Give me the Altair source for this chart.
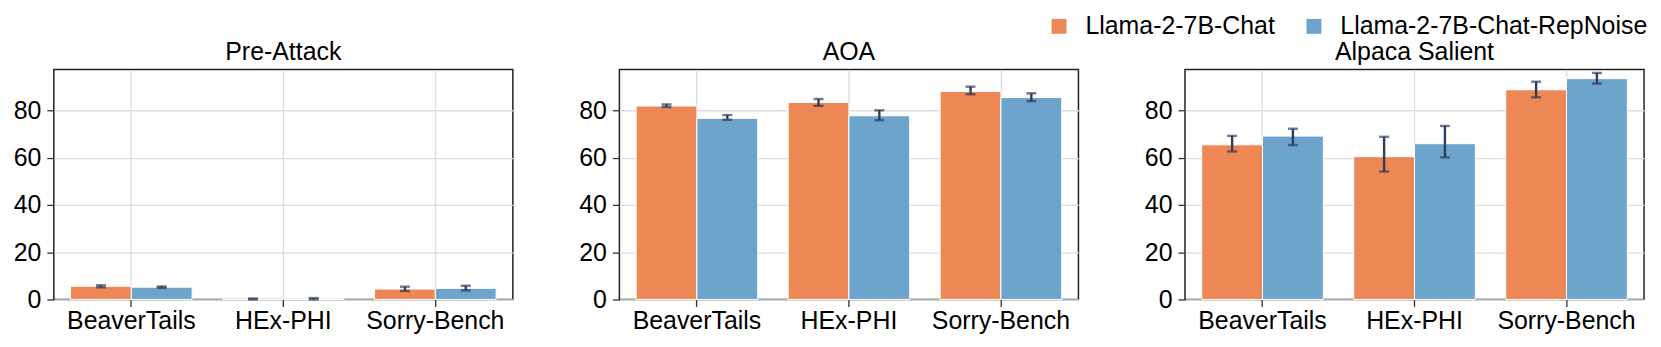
import altair as alt
import pandas as pd

benchmarks = ["BeaverTails", "HEx-PHI", "Sorry-Bench"]
attacks = ["Pre-Attack", "AOA", "Alpaca Salient"]
models = ["Llama-2-7B-Chat", "Llama-2-7B-Chat-RepNoise"]

# mean values per attack, [BeaverTails, HEx-PHI, Sorry-Bench]
chat_mean = {
    "Pre-Attack": [5.6, 0.2, 4.4],
    "AOA": [81.8, 83.3, 88.0],
    "Alpaca Salient": [65.4, 60.4, 88.7],
}
chat_lo = {
    "Pre-Attack": [5.1, 0.0, 3.6],
    "AOA": [81.4, 81.9, 86.8],
    "Alpaca Salient": [62.6, 54.1, 85.5],
}
chat_hi = {
    "Pre-Attack": [6.0, 0.4, 5.4],
    "AOA": [82.5, 84.8, 90.0],
    "Alpaca Salient": [69.2, 68.8, 92.1],
}
rep_mean = {
    "Pre-Attack": [5.2, 0.3, 4.7],
    "AOA": [76.6, 77.7, 85.4],
    "Alpaca Salient": [69.1, 65.9, 93.4],
}
rep_lo = {
    "Pre-Attack": [4.9, 0.0, 3.8],
    "AOA": [76.0, 75.8, 83.9],
    "Alpaca Salient": [65.3, 60.1, 91.3],
}
rep_hi = {
    "Pre-Attack": [5.5, 0.6, 5.8],
    "AOA": [78.0, 80.0, 87.2],
    "Alpaca Salient": [72.2, 73.4, 95.8],
}

rows = []
for a in attacks:
    for i, b in enumerate(benchmarks):
        rows.append(dict(attack=a, bench=b, model=models[0], value=chat_mean[a][i], lo=chat_lo[a][i], hi=chat_hi[a][i]))
        rows.append(dict(attack=a, bench=b, model=models[1], value=rep_mean[a][i], lo=rep_lo[a][i], hi=rep_hi[a][i]))
df = pd.DataFrame(rows)

ORANGE = "#ED8756"
BLUE = "#6CA4CC"
ERR = "#2C3E5C"
FONT = "Liberation Sans"

def panel(a, show_legend):
    base = alt.Chart(df).transform_filter(alt.datum.attack == a)
    xenc = alt.X("bench:N", sort=benchmarks,
                 scale=alt.Scale(paddingInner=0.2, paddingOuter=0.11),
                 axis=alt.Axis(title=None, labelAngle=0, bandPosition=0.5, grid=True,
                               labelPadding=2, labelOverlap=False))
    xoff = alt.XOffset("model:N", sort=models, scale=alt.Scale(paddingInner=0, paddingOuter=0))
    yscale = alt.Scale(domain=[0, 97.3], nice=False, zero=True)
    legend = alt.Legend(title=None, orient="none", direction="horizontal",
                        legendX=997, legendY=-56, symbolType="square", symbolSize=225,
                        symbolStrokeWidth=0, labelFontSize=25, labelFont=FONT, labelColor="black",
                        labelLimit=500, labelOffset=14, columnPadding=26) if show_legend else None
    bars = base.mark_bar(stroke="white", strokeWidth=1).encode(
        x=xenc,
        xOffset=xoff,
        y=alt.Y("value:Q", scale=yscale,
                axis=alt.Axis(title=None, values=[0, 20, 40, 60, 80], labelPadding=6)),
        color=alt.Color("model:N", sort=models,
                        scale=alt.Scale(domain=models, range=[ORANGE, BLUE]),
                        legend=legend),
    )
    rule = base.mark_rule(color=ERR, strokeWidth=2.4).encode(
        x=alt.X("bench:N", sort=benchmarks), xOffset=xoff,
        y=alt.Y("lo:Q", scale=yscale), y2="hi:Q")
    cap_lo = base.mark_tick(color=ERR, thickness=2.4, size=10).encode(
        x=alt.X("bench:N", sort=benchmarks), xOffset=xoff, y=alt.Y("lo:Q", scale=yscale))
    cap_hi = base.mark_tick(color=ERR, thickness=2.4, size=10).encode(
        x=alt.X("bench:N", sort=benchmarks), xOffset=xoff, y=alt.Y("hi:Q", scale=yscale))
    return alt.layer(bars, rule, cap_lo, cap_hi).properties(
        width=461, height=231, title=alt.Title(a))

chart = alt.hconcat(
    panel(attacks[0], True), panel(attacks[1], False), panel(attacks[2], False),
    spacing=64,
).properties(
    padding={"left": 4, "top": 5, "right": 5, "bottom": 0}
).configure_view(
    stroke="#222222", strokeWidth=1.5
).configure_axis(
    labelFont=FONT, labelFontSize=25, labelColor="black",
    tickColor="#333333", tickSize=7, tickWidth=1.3,
    gridColor="#dcdcdc", gridWidth=1.3, domain=False,
).configure_title(
    font=FONT, fontSize=25, fontWeight="normal", color="black", offset=4
)

chart.save("out.html", embed_options={"renderer": "svg", "actions": False})
